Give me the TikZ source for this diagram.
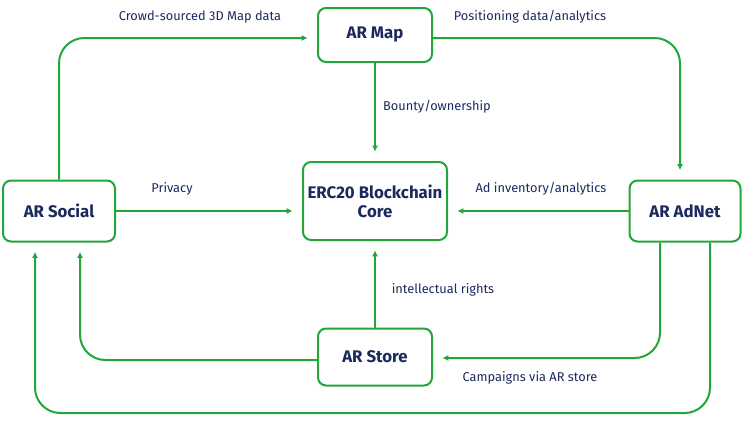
\documentclass[tikz,border=0pt]{standalone}
\usepackage{fontspec}
\setmainfont{Fira Sans}
\usetikzlibrary{arrows.meta,positioning,calc}
\definecolor{argreen}{HTML}{22A63A}
\definecolor{arnavy}{HTML}{1B2A5E}
\begin{document}
\begin{tikzpicture}[x=0.75pt,y=-0.75pt,
  box/.style={draw=argreen,line width=1.5pt,fill=white,rounded corners=6pt,
    align=center,text=arnavy,font=\fontsize{12.6}{14.5}\selectfont\bfseries,inner sep=0pt},
  lbl/.style={text=arnavy,font=\fontsize{9.6}{11}\selectfont},
  arrow/.style={-{Latex[length=4.5pt,width=4.5pt]},line width=1.5pt,draw=argreen,
    rounded corners=19pt,shorten >=7pt}]
\useasboundingbox (0,0) rectangle (745,421);
\node[box,minimum width=85.5pt,minimum height=40.5pt] (map) at (375,35) {AR Map};
\node[box,minimum width=108pt,minimum height=58.5pt] (core) at (375,201) {ERC20 Blockchain\\Core};
\node[box,minimum width=84pt,minimum height=45.75pt] (social) at (59,211) {AR Social};
\node[box,minimum width=83.25pt,minimum height=45.75pt] (adnet) at (685,211) {AR AdNet};
\node[box,minimum width=85.5pt,minimum height=42.75pt] (store) at (375,357) {AR Store};
\coordinate (bottom) at (35,413);
% connectors
\draw[arrow] (social.north) |- ($(map.west)+(0,3)$);
\draw[arrow] ($(map.east)+(0,3)$) -| ($(adnet.north)+(-5,0)$);
\draw[arrow] (map.south) -- (core.north);
\draw[arrow] (social.east) -- (social.east -| core.west);
\draw[arrow] (adnet.west) -- (adnet.west -| core.east);
\draw[arrow] (store.north) -- (core.south);
\draw[arrow] ($(adnet.south)+(-25,0)$) |- ($(store.east)+(0,1)$);
\draw[arrow] ($(store.west)+(0,3)$) -| ($(social.south)+(21,0)$);
\draw[arrow] ($(adnet.south)+(25,0)$) |- (bottom) -- ($(social.south)+(-24,0)$);
% labels
\node[lbl] (l1) at (200,17) {Crowd-sourced 3D Map data};
\node[lbl] (l2) at (530,17) {Positioning data/analytics};
\node[lbl] (l3) at (437,107) {Bounty/ownership};
\node[lbl] (l4) at (172,189) {Privacy};
\node[lbl] (l5) at (541,189) {Ad inventory/analytics};
\node[lbl] (l6) at (443,290) {intellectual rights};
\node[lbl] (l7) at (530,378) {Campaigns via AR store};
\end{tikzpicture}
\end{document}
